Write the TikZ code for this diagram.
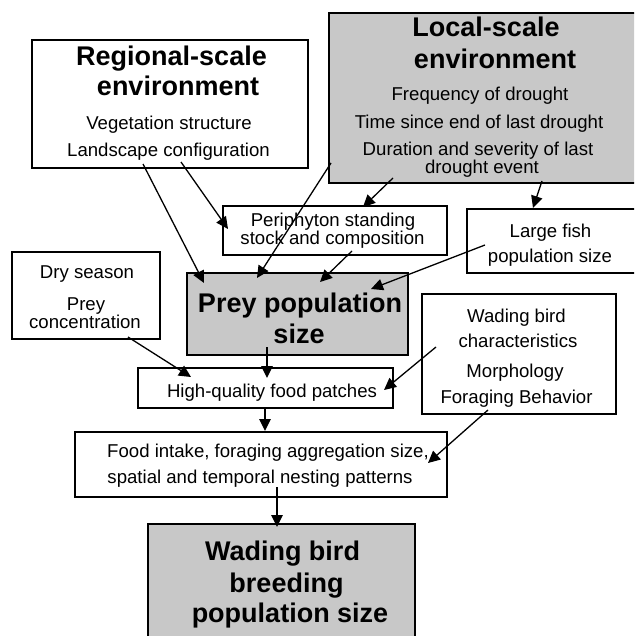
\documentclass[tikz,border=0pt]{standalone}
\usepackage{fontspec}
\setmainfont{Liberation Sans}
\usetikzlibrary{arrows.meta,calc}
\definecolor{boxgray}{RGB}{200,200,200}
\newcommand{\ttl}{\fontsize{27}{30}\selectfont\bfseries}
\newcommand{\bdy}{\fontsize{18.6}{22}\selectfont}
\begin{document}
\begin{tikzpicture}[x=1pt,y=-1pt,
  box/.style={draw=black,line width=1.4pt,rectangle,inner sep=0pt,outer sep=0pt,fill=white},
  graybox/.style={box,fill=boxgray},
  tl/.style={anchor=base,inner sep=0pt,font=\ttl},
  bl/.style={anchor=base,inner sep=0pt,font=\bdy},
  arr/.style={line width=1.3pt,-{Triangle[length=12pt,width=11.5pt]}}]
\clip (0,0) rectangle (634,636);
\useasboundingbox (0,0) rectangle (634,636);
\fill[white] (0,0) rectangle (634,636);
% boxes
\node[box,minimum width=276,minimum height=128,anchor=north west] (reg) at (32,40) {};
\node[graybox,minimum width=311,minimum height=170,anchor=north west] (loc) at (329,13) {};
\node[box,minimum width=224,minimum height=49,anchor=north west] (peri) at (223,206) {};
\node[box,minimum width=173,minimum height=64,anchor=north west] (fish) at (467,209) {};
\node[box,minimum width=148,minimum height=87,anchor=north west] (dry) at (12,252) {};
\node[graybox,minimum width=221,minimum height=82,anchor=north west] (prey) at (187,273) {};
\node[box,minimum width=255,minimum height=40,anchor=north west] (hq) at (138,368) {};
\node[box,minimum width=194,minimum height=120,anchor=north west] (wbc) at (422,294) {};
\node[box,minimum width=372,minimum height=65,anchor=north west] (food) at (75,432) {};
\node[graybox,minimum width=267,minimum height=126,anchor=north west] (breed) at (148,524) {};
% texts
\node[tl] (reg1) at (171.5,66) {Regional-scale};
\node[tl] (reg2) at (178,96) {environment};
\node[bl] (reg3) at (169,130) {Vegetation structure};
\node[bl] (reg4) at (168.5,157) {Landscape configuration};
\node[tl] (loc1) at (486,37) {Local-scale};
\node[tl] (loc2) at (495,69) {environment};
\node[bl] (loc3) at (480,101) {Frequency of drought};
\node[bl] (loc4) at (479,129) {Time since end of last drought};
\node[bl] (loc5) at (478,156) {Duration and severity of last};
\node[bl] (loc6) at (482,174) {drought event};
\node[bl] (peri1) at (333,226) {Periphyton standing};
\node[bl] (peri2) at (332.5,244) {stock and composition};
\node[bl] (fish1) at (550.5,237) {Large fish};
\node[bl] (fish2) at (550,262) {population size};
\node[bl] (dry1) at (87,278) {Dry season};
\node[bl] (dry2) at (86,310) {Prey};
\node[bl] (dry3) at (85,328) {concentration};
\node[tl] (prey1) at (300,312) {Prey population};
\node[tl] (prey2) at (299,343) {size};
\node[bl] (hq1) at (272,397) {High-quality food patches};
\node[bl] (wbc1) at (516.5,322) {Wading bird};
\node[bl] (wbc2) at (518,347) {characteristics};
\node[bl] (wbc3) at (515,377) {Morphology};
\node[bl] (wbc4) at (516.5,403) {Foraging Behavior};
\node[bl] (food1) at (268,457) {Food intake, foraging aggregation size,};
\node[bl] (food2) at (260,483) {spatial and temporal nesting patterns};
\node[tl] (breed1) at (282.5,560) {Wading bird};
\node[tl] (breed2) at (286.5,592) {breeding};
\node[tl] (breed3) at (290,622) {population size};
% arrows
\draw[arr] ($(reg.north west)+(111,124)$) -- ($(prey.north west)+(17,10)$);
\draw[arr] ($(reg.north west)+(149,122)$) -- ($(peri.north west)+(5,23)$);
\draw[arr] ($(loc.north west)+(2,150)$) -- ($(prey.north west)+(70,5)$);
\draw[arr] ($(loc.north west)+(64,165)$) -- ($(peri.north west)+(140,1)$);
\draw[arr] ($(loc.north west)+(213,168)$) -- ($(fish.north west)+(66,-1)$);
\draw[arr] ($(peri.north west)+(129,45)$) -- ($(prey.north west)+(133,9)$);
\draw[arr] ($(fish.north west)+(18,36)$) -- ($(prey.north west)+(184,16)$);
\draw[arr] ($(dry.north west)+(116,85)$) -- ($(hq.north west)+(53,9)$);
\draw[arr] ($(prey.north west)+(80,74)$) -- ($(hq.north west)+(129,10)$);
\draw[arr] ($(wbc.north west)+(14,53)$) -- ($(hq.north west)+(246,22)$);
\draw[arr] ($(hq.north west)+(127,40)$) -- ($(food.north west)+(190,-1)$);
\draw[arr] ($(wbc.north west)+(66,116)$) -- ($(food.north west)+(353,31)$);
\draw[arr] ($(food.north west)+(202,55)$) -- ($(breed.north west)+(129,3)$);
\end{tikzpicture}
\end{document}
